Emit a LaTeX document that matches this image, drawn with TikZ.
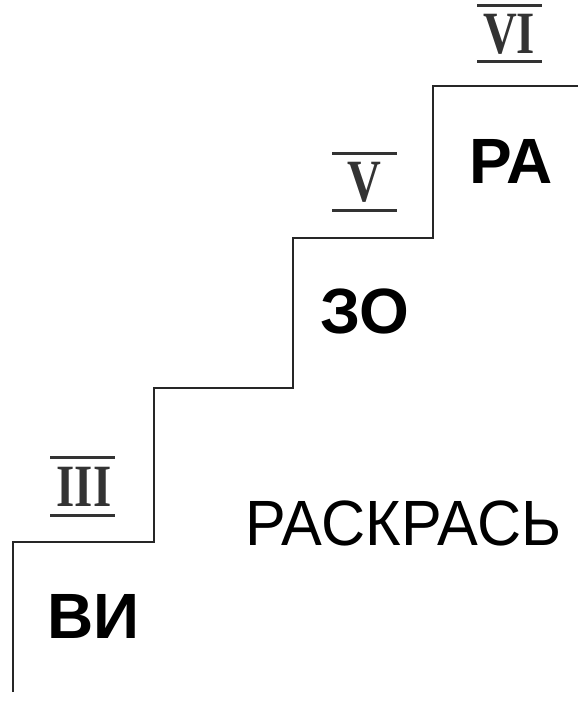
\documentclass[tikz,border=0pt]{standalone}
\usepackage{fontspec}
\newfontfamily\stsans{Liberation Sans}
\newfontfamily\stserif{Liberation Serif}
\begin{document}
\begin{tikzpicture}[x=1pt,y=-1pt,
  stair/.style={line width=1.8pt,black!85},
  bigword/.style={anchor=base west,inner sep=0pt,font=\stsans\bfseries\fontsize{64}{64}\selectfont},
  thinword/.style={anchor=base west,inner sep=0pt,font=\stsans\fontsize{64}{64}\selectfont},
  numeral/.style={anchor=base,inner sep=0pt,text=black!80,xscale=0.78,font=\stserif\bfseries\fontsize{60}{60}\selectfont},
  numbar/.style={line width=3pt,black!80}]
\useasboundingbox (0,0) rectangle (578,701);
% staircase
\coordinate (s0) at (13,692);
\coordinate (s1) at (13,542);
\coordinate (s2) at (154,542);
\coordinate (s3) at (154,388);
\coordinate (s4) at (293,388);
\coordinate (s5) at (293,238);
\coordinate (s6) at (433,238);
\coordinate (s7) at (433,86);
\coordinate (s8) at (578,86);
\draw[stair] (s0) -- (s1) -- (s2) -- (s3) -- (s4) -- (s5) -- (s6) -- (s7) -- (s8);
% words
\node[bigword] (vi) at (47,638) {ВИ};
\node[bigword] (zo) at (320,333) {ЗО};
\node[bigword] (ra) at (469,183) {РА};
\node[thinword,xscale=0.955] (raskras) at (245,545) {РАСКРАСЬ};
% roman numerals
\node[numeral] (n6) at (509,54) {VI};
\draw[numbar] (477,6) -- (542,6);
\draw[numbar] (477,62) -- (542,62);
\node[numeral] (n5) at (364,201) {V};
\draw[numbar] (332,153) -- (397,153);
\draw[numbar] (332,210) -- (397,210);
\node[numeral] (n3) at (84,506) {III};
\draw[numbar] (50,457) -- (115,457);
\draw[numbar] (50,515) -- (115,515);
\end{tikzpicture}
\end{document}
